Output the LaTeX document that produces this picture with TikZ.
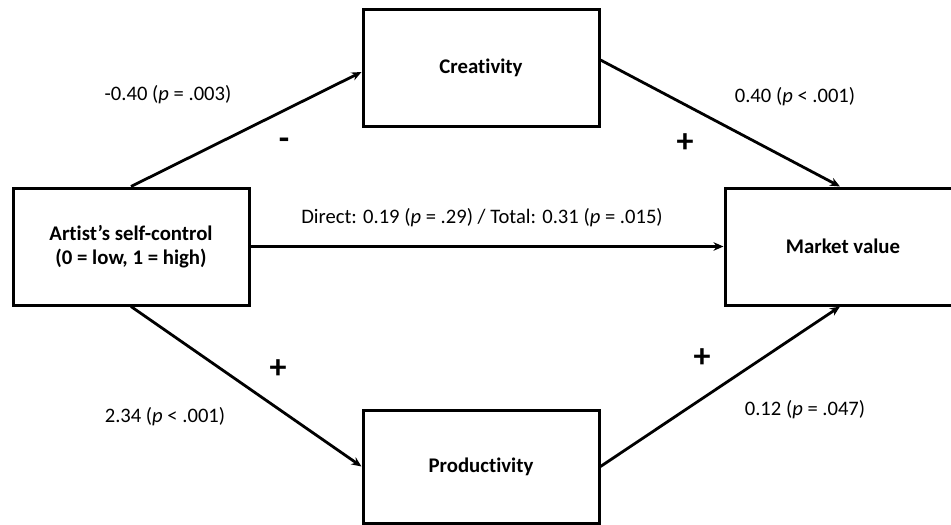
\documentclass[tikz,border=0pt]{standalone}
\usepackage{fontspec}
\setmainfont[Ligatures=NoCommon]{Carlito}
\usetikzlibrary{arrows.meta,calc}

\begin{document}
\begin{tikzpicture}[x=1pt,y=-1pt,
  varbox/.style={draw=black, line width=3pt, minimum width=236pt, minimum height=117pt,
    inner sep=0pt, font=\fontsize{20.8}{24}\selectfont\bfseries, align=center},
  path/.style={line width=2.8pt, -{Stealth[length=10pt,width=8.5pt]}},
  coef/.style={font=\fontsize{20.6}{24}\selectfont, inner sep=0pt},
  sign/.style={font=\fontsize{34}{36}\selectfont\bfseries, inner sep=0pt}]
  \useasboundingbox (0,0) rectangle (951,525);

  % variables
  \node[varbox] (self) at (131,246.5) {Artist’s self-control\\(0 = low, 1 = high)};
  \node[varbox] (creat) at (481,68) {Creativity};
  \node[varbox] (market) at (843,246.5) {Market value};
  \node[varbox, minimum height=113pt] (prod) at (481,466.5) {Productivity};

  % paths
  \draw[path] (self.north) -- ($(creat.west)+(0,4)$);
  \draw[path] ($(creat.east)+(0,-8)$) -- ($(market.north)+(-3,0)$);
  \draw[path] (self.south) -- (prod.west);
  \draw[path] (prod.east) -- ($(market.south)+(-3,0)$);
  \draw[path] (self.east) -- (market.west);

  % coefficients
  \node[coef] (c1) at (168,95) {-0.40 (\textit{p} = .003)};
  \node[coef] (c2) at (795,97) {0.40 (\textit{p} < .001)};
  \node[coef] (c3) at (165,417) {2.34 (\textit{p} < .001)};
  \node[coef] (c4) at (805,410) {0.12 (\textit{p} = .047)};
  \node[coef] (c5) at (482,218) {Direct: 0.19 (\textit{p} = .29) / Total: 0.31 (\textit{p} = .015)};

  % signs
  \node[sign] (s1) at (284,144) {-};
  \node[sign] (s2) at (685,143) {+};
  \node[sign] (s3) at (278,369) {+};
  \node[sign] (s4) at (702,358) {+};
\end{tikzpicture}
\end{document}
